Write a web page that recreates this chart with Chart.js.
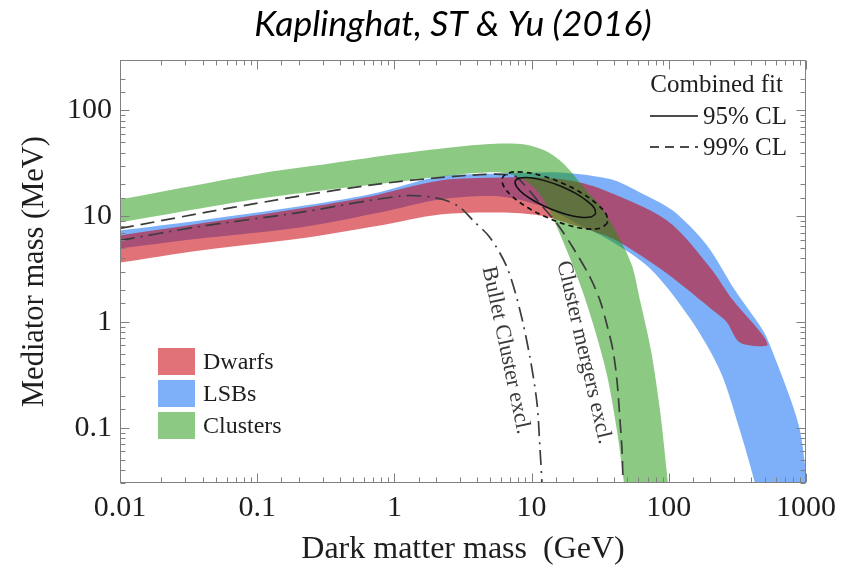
<!DOCTYPE html>
<html>
<head>
<meta charset="utf-8">
<script src="https://cdn.jsdelivr.net/npm/chart.js@4.4.1/dist/chart.umd.min.js"></script>
<style>
  html, body { margin: 0; padding: 0; background: #ffffff; }
  canvas { display: block; }
</style>
</head>
<body>
<canvas id="chart" width="856" height="572"></canvas>
<script>
// Axis tick labels (log-log plane)
const xTickLabels = ['0.01', '0.1', '1', '10', '100', '1000'];
const yTickLabels = ['0.1', '1', '10', '100'];

// Allowed bands: [dark matter mass (GeV), mediator mass (MeV)]
// each band = outer/upper edge (left to right) + inner/lower edge (left to right)
const clustersUpper = [[0.01,14.4],[0.0383,19.96],[0.105,25.4],[0.339,31.5],[1.10,39.2],[3.01,45.7],[5.89,48.7],[8.95,47.7],[12.5,41.8],[16.1,33.7],[19.05,27.1],[21.8,21.8],[25.8,16.8],[31.5,12.6],[42.6,6.58],[53.9,3.42],[61.7,1.60],[74.2,0.538],[86.3,0.146],[98.7,0.0297],[102,0.0205]];
const clustersLower = [[0.01,8.73],[0.0383,11.84],[0.105,14.72],[0.339,17.91],[1.10,21.31],[3.01,24.83],[5.89,25.9],[8.23,23.25],[10.6,18.3],[12.7,13.2],[14.8,8.73],[17.2,5.53],[20.4,3.21],[24.1,1.78],[29.0,0.831],[35.5,0.312],[41.9,0.0942],[47.2,0.0297],[48.8,0.0205]];

const lsbsUpper = [[0.01,7.33],[0.0383,9.12],[0.205,12.4],[0.664,16.1],[2.15,23.8],[5.89,25.4],[11.5,25.9],[16.1,25.9],[26.7,24.3],[40.5,21.8],[61.7,16.8],[107,11.3],[190,5.29],[304,1.99],[486,0.831],[547,0.600],[764,0.193],[904,0.0942],[1007,0.0369],[1106,0.0205]];
const lsbsLower = [[0.01,4.96],[0.0383,6.16],[0.205,7.83],[0.785,10.85],[2.15,14.4],[5.89,15.4],[11.5,12.6],[20.7,8.73],[37.3,5.90],[73.0,3.21],[143,1.08],[236,0.348],[330,0.0942],[425,0.0297],[447,0.0205]];

const dwarfsUpper = [[0.01,6.58],[0.0383,8.54],[0.205,11.84],[0.664,15.4],[2.15,21.8],[5.89,23.25],[11.5,23.25],[19.05,21.8],[31.5,18.3],[97.0,9.12],[200,3.28],[294,1.60],[486,0.745],[520,0.600]];
const dwarfsLower = [[0.01,3.65],[0.0383,4.75],[0.205,6.16],[0.785,8.18],[2.15,10.4],[5.89,10.85],[11.5,10.16],[20.7,8.18],[37.3,6.30],[54.8,4.75],[97.0,2.875],[224.5,1.20],[265.6,0.989],[330,0.640]];

// Exclusion curves
const bulletCluster = [[0.01,5.90],[0.0383,8.0],[0.205,10.85],[0.664,14.1],[1.30,15.7],[2.26,14.4],[3.01,12.1],[3.74,9.12],[4.97,6.30],[6.62,3.28],[8.23,1.285],[9.73,0.462],[10.95,0.170],[11.5,0.065],[11.9,0.0297],[12.0,0.02]];
const clusterMergers = [[0.01,7.66],[0.0666,12.1],[0.631,19.5],[3.38,24.3],[7.32,24.3],[8.95,19.5],[11.5,13.2],[15.3,8.54],[20.0,5.06],[26.7,2.64],[31.5,1.60],[35.5,0.927],[39.2,0.538],[41.9,0.280],[44.1,0.117],[45.6,0.0609],[46.4,0.0297],[46.8,0.0205]];

// Combined fit contours (closed)
const cl95X = [29.3,27.0,22.8,18.0,13.8,10.7,8.77,7.78,7.60,8.26,9.80,12.4,16.2,20.8,25.4,28.7];
const cl95Y = [10.5,9.84,9.80,10.4,11.7,13.7,16.2,19.0,21.5,23.0,23.1,21.7,19.3,16.5,13.9,11.9];
const cl99X = [35.7,31.9,25.3,18.5,13.1,9.42,7.27,6.25,6.14,6.88,8.67,11.9,16.8,23.3,30.2,35.1];
const cl99Y = [8.59,7.73,7.60,8.22,9.67,12.0,15.3,19.3,23.1,25.7,26.1,24.1,20.5,16.5,12.9,10.3];

const COLORS = {
  dwarfs: 'rgba(200,0,10,0.55)',
  lsbs: 'rgb(126,176,250)',
  clusters: 'rgba(25,150,10,0.5)',
  curve: '#3c3c3c',
  frame: '#808080',
  text: '#1e1e1e'
};

const SERIF = '"Liberation Serif", "Times New Roman", serif';
const TITLE = 'Kaplinghat, ST & Yu (2016)';

const toPts = arr => arr.map(([x, y]) => ({ x, y }));
const bandShape = (upper, lower) => toPts(upper.concat(lower.slice().reverse()));
const loopShape = (xs, ys) => {
  const pts = xs.map((x, i) => ({ x, y: ys[i] }));
  pts.push({ ...pts[0] });
  return pts;
};

const bandDataset = (label, upper, lower, color, order) => ({
  label, data: bandShape(upper, lower), fill: 'shape',
  backgroundColor: color, borderWidth: 0, borderColor: 'transparent',
  pointRadius: 0, tension: 0.3, order
});

// frame with inward ticks on all four sides
const frameTicks = {
  id: 'frameTicks',
  afterDatasetsDraw(chart) {
    const { ctx, chartArea: a, scales: { x, y } } = chart;
    const L = Math.round(a.left) + 0.5, R = Math.round(a.right) - 0.5;
    const T = Math.round(a.top) + 0.5, B = Math.round(a.bottom) - 0.5;
    const isMajor = v => { const lg = Math.log10(v); return Math.abs(lg - Math.round(lg)) < 1e-6; };
    ctx.save();
    ctx.strokeStyle = COLORS.frame;
    ctx.lineWidth = 1;
    ctx.beginPath();
    ctx.rect(L, T, R - L, B - T);
    x.ticks.forEach(t => {
      const len = isMajor(t.value) ? 9 : 5;
      const px = Math.round(x.getPixelForValue(t.value)) + 0.5;
      ctx.moveTo(px, B); ctx.lineTo(px, B - len);
      ctx.moveTo(px, T); ctx.lineTo(px, T + len);
    });
    y.ticks.forEach(t => {
      const len = isMajor(t.value) ? 9 : 5;
      const py = Math.round(y.getPixelForValue(t.value)) + 0.5;
      ctx.moveTo(L, py); ctx.lineTo(L + len, py);
      ctx.moveTo(R, py); ctx.lineTo(R - len, py);
    });
    ctx.stroke();
    ctx.restore();
  }
};

// heading, legends and curve captions
const captions = {
  id: 'captions',
  afterDraw(chart) {
    const { ctx, chartArea: a, scales: { x, y } } = chart;
    ctx.save();

    // heading above the frame
    ctx.fillStyle = '#000';
    ctx.font = 'italic 35.5px Lato, "Open Sans", sans-serif';
    ctx.textAlign = 'center';
    ctx.textBaseline = 'middle';
    ctx.fillText(TITLE, (a.left + a.right) / 2 - 10, 25);

    ctx.fillStyle = COLORS.text;

    // band legend, lower left
    const items = [['Dwarfs', COLORS.dwarfs], ['LSBs', COLORS.lsbs], ['Clusters', COLORS.clusters]];
    ctx.font = '24px ' + SERIF;
    ctx.textBaseline = 'middle';
    ctx.textAlign = 'left';
    items.forEach(([name, col], i) => {
      const top = a.top + 288 + i * 32;
      ctx.fillStyle = col;
      ctx.fillRect(a.left + 38, top, 37, 27);
      ctx.fillStyle = COLORS.text;
      ctx.fillText(name, a.left + 83, top + 15);
    });

    // combined fit legend, upper right
    ctx.font = '25px ' + SERIF;
    ctx.textAlign = 'right';
    ctx.fillText('Combined fit', a.right - 23, a.top + 25);
    ctx.fillText('95% CL', a.right - 19, a.top + 57);
    ctx.fillText('99% CL', a.right - 19, a.top + 88);
    ctx.strokeStyle = '#111';
    ctx.lineWidth = 1.3;
    ctx.beginPath();
    ctx.moveTo(a.right - 156, a.top + 56); ctx.lineTo(a.right - 108, a.top + 56);
    ctx.stroke();
    ctx.setLineDash([9, 6]);
    ctx.beginPath();
    ctx.moveTo(a.right - 156, a.top + 87); ctx.lineTo(a.right - 108, a.top + 87);
    ctx.stroke();
    ctx.setLineDash([]);

    // rotated captions along the exclusion curves
    ctx.font = '22px ' + SERIF;
    ctx.fillStyle = '#3a3a3a';
    ctx.textAlign = 'center';
    const rotText = (txt, vx, vy, deg) => {
      ctx.save();
      ctx.translate(x.getPixelForValue(vx), y.getPixelForValue(vy));
      ctx.rotate(deg * Math.PI / 180);
      ctx.fillText(txt, 0, 0);
      ctx.restore();
    };
    rotText('Bullet Cluster excl.', 6.5, 0.54, 78);
    rotText('Cluster mergers excl.', 24.1, 0.515, 77);
    ctx.restore();
  }
};

const whiteBg = {
  id: 'whiteBg',
  beforeDraw(chart) {
    const { ctx, width, height } = chart;
    ctx.save();
    ctx.fillStyle = '#ffffff';
    ctx.fillRect(0, 0, width, height);
    ctx.restore();
  }
};

const isPow10 = v => { const lg = Math.log10(v); return Math.abs(lg - Math.round(lg)) < 1e-6; };
const labelFor = (v, list) => {
  if (!isPow10(v)) return '';
  const s = list.find(l => Math.abs(parseFloat(l) - v) < v * 1e-6);
  return s || '';
};

new Chart(document.getElementById('chart'), {
  type: 'line',
  data: {
    datasets: [
      bandDataset('LSBs', lsbsUpper, lsbsLower, COLORS.lsbs, 6),
      bandDataset('Dwarfs', dwarfsUpper, dwarfsLower, COLORS.dwarfs, 5),
      bandDataset('Clusters', clustersUpper, clustersLower, COLORS.clusters, 4),
      {
        label: 'Bullet Cluster excl.', data: toPts(bulletCluster), fill: false,
        borderColor: COLORS.curve, borderWidth: 1.7, borderDash: [15, 6, 2, 6],
        pointRadius: 0, tension: 0.3, order: 3
      },
      {
        label: 'Cluster mergers excl.', data: toPts(clusterMergers), fill: false,
        borderColor: COLORS.curve, borderWidth: 1.7, borderDash: [14, 7],
        pointRadius: 0, tension: 0.3, order: 3
      },
      {
        label: '99% CL', data: loopShape(cl99X, cl99Y), fill: false,
        borderColor: '#111', borderWidth: 1.7, borderDash: [5, 4],
        pointRadius: 0, tension: 0.4, order: 1
      },
      {
        label: '95% CL', data: loopShape(cl95X, cl95Y), fill: false,
        borderColor: '#111', borderWidth: 1.5,
        pointRadius: 0, tension: 0.4, order: 1
      }
    ]
  },
  options: {
    responsive: false,
    animation: false,
    events: [],
    layout: { padding: { left: 0, right: 50, top: 60, bottom: 0 } },
    plugins: {
      legend: { display: false },
      tooltip: { enabled: false },
      title: { display: false }
    },
    scales: {
      x: {
        type: 'logarithmic', min: 0.01, max: 1000, position: 'bottom',
        grid: { display: false, drawTicks: false },
        border: { display: false },
        ticks: {
          autoSkip: false, maxRotation: 0, padding: 7,
          color: COLORS.text, font: { family: SERIF, size: 30 },
          callback: v => labelFor(v, xTickLabels)
        },
        title: {
          display: true, text: 'Dark matter mass  (GeV)', color: COLORS.text,
          font: { family: SERIF, size: 32 }, padding: { top: 0, bottom: 3 }
        },
        afterFit: s => { s.height = 89; }
      },
      y: {
        type: 'logarithmic', min: 0.03, max: 300, position: 'left',
        grid: { display: false, drawTicks: false },
        border: { display: false },
        ticks: {
          autoSkip: false, padding: 8,
          color: COLORS.text, font: { family: SERIF, size: 30 },
          callback: v => labelFor(v, yTickLabels)
        },
        title: {
          display: true, text: 'Mediator mass (MeV)', color: COLORS.text,
          font: { family: SERIF, size: 30.5 }, padding: { top: 17, bottom: 0 }
        },
        afterFit: s => { s.width = 120; }
      }
    }
  },
  plugins: [whiteBg, frameTicks, captions]
});
</script>
</body>
</html>
